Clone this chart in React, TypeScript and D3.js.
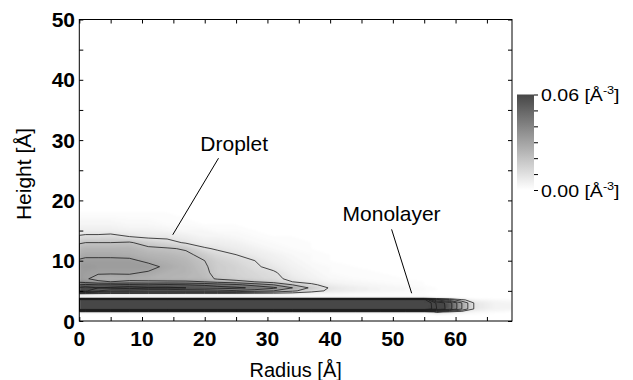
import { useRef, useEffect } from "react";
import * as d3 from "d3";

// grid of the density map
const radii = [0, 1, 3, 5, 8, 11, 14, 17, 20, 22, 25, 28, 31, 34, 37, 40, 44, 48, 52, 55, 57, 59, 61, 63, 66, 69];
const heights = [0, 1, 1.5, 2, 3, 3.5, 3.8, 4.5, 5, 5.5, 6, 6.5, 7, 8, 9, 10, 11, 12, 13, 14, 15, 16, 18, 20];

// density in 1e-3 Å^-3, one profile per radius (bottom -> top)
const density = [
  [0, 0, 3, 95, 95, 85, 1, 8, 65, 62, 50, 38, 33, 32, 33, 31, 27, 24, 19, 11, 6, 4, 1, 0],
  [0, 0, 3, 95, 95, 85, 1, 7, 62, 64, 52, 36, 31, 32, 34, 32, 28, 25, 20, 12, 6, 4, 1, 0],
  [0, 0, 3, 95, 95, 85, 1, 6, 50, 60, 50, 32, 27, 31, 33, 32, 28, 25, 20, 12, 6, 4, 1, 0],
  [0, 0, 3, 95, 95, 85, 1, 5, 45, 62, 50, 30, 26, 31, 33, 32, 28, 25, 20, 13, 6, 4, 1, 0],
  [0, 0, 3, 95, 95, 85, 1, 5, 45, 65, 52, 32, 27, 31, 33, 32, 27, 25, 21, 10, 5, 3, 1, 0],
  [0, 0, 3, 95, 95, 85, 1, 5, 42, 62, 50, 32, 26, 29, 33, 28, 25, 22, 16, 8, 5, 3, 1, 0],
  [0, 0, 3, 95, 95, 85, 1, 5, 42, 62, 52, 32, 25, 26, 28, 26, 24, 21, 13, 8, 4, 2, 1, 0],
  [0, 0, 3, 95, 95, 85, 1, 5, 40, 60, 50, 32, 24, 25, 25, 24, 22, 19, 9, 6, 3, 2, 0, 0],
  [0, 0, 3, 95, 95, 85, 1, 5, 40, 58, 48, 30, 23, 22, 21, 20, 17, 11, 6, 4, 3, 1, 0, 0],
  [0, 0, 3, 95, 95, 85, 1, 5, 40, 55, 45, 27, 19, 17, 17, 16, 13, 9, 6, 4, 2, 1, 0, 0],
  [0, 0, 3, 95, 95, 85, 1, 5, 38, 52, 42, 24, 16, 15, 15, 13, 10, 7, 5, 3, 2, 1, 0, 0],
  [0, 0, 3, 95, 95, 85, 1, 4, 35, 48, 36, 20, 14, 13, 11, 10, 7, 5, 3, 2, 1, 0, 0, 0],
  [0, 0, 3, 95, 95, 85, 1, 4, 30, 42, 30, 16, 12, 11, 8, 6, 5, 3, 2, 1, 0, 0, 0, 0],
  [0, 0, 3, 95, 95, 85, 1, 4, 22, 30, 20, 10, 8, 6, 5, 4, 3, 2, 1, 1, 0, 0, 0, 0],
  [0, 0, 3, 95, 95, 85, 1, 3, 14, 18, 12, 7, 5, 4, 3, 2, 2, 1, 1, 0, 0, 0, 0, 0],
  [0, 0, 3, 95, 95, 85, 1, 3, 8, 9, 6, 4, 3, 2, 2, 1, 1, 0, 0, 0, 0, 0, 0, 0],
  [0, 0, 3, 95, 95, 85, 1, 2, 6, 6, 4, 3, 2, 1, 1, 0, 0, 0, 0, 0, 0, 0, 0, 0],
  [0, 0, 3, 95, 95, 85, 1, 2, 4, 4, 3, 2, 1, 1, 0, 0, 0, 0, 0, 0, 0, 0, 0, 0],
  [0, 0, 3, 95, 95, 85, 1, 1, 3, 3, 2, 1, 1, 0, 0, 0, 0, 0, 0, 0, 0, 0, 0, 0],
  [0, 0, 3, 95, 95, 85, 1, 1, 2, 2, 1, 1, 0, 0, 0, 0, 0, 0, 0, 0, 0, 0, 0, 0],
  [0, 1, 12, 70, 68, 40, 1, 0, 1, 1, 0, 0, 0, 0, 0, 0, 0, 0, 0, 0, 0, 0, 0, 0],
  [0, 1, 8, 55, 55, 25, 1, 0, 0, 0, 0, 0, 0, 0, 0, 0, 0, 0, 0, 0, 0, 0, 0, 0],
  [0, 1, 5, 30, 30, 12, 0, 0, 0, 0, 0, 0, 0, 0, 0, 0, 0, 0, 0, 0, 0, 0, 0, 0],
  [0, 1, 3, 9, 9, 5, 0, 0, 0, 0, 0, 0, 0, 0, 0, 0, 0, 0, 0, 0, 0, 0, 0, 0],
  [0, 0, 2, 5, 5, 3, 0, 0, 0, 0, 0, 0, 0, 0, 0, 0, 0, 0, 0, 0, 0, 0, 0, 0],
  [0, 0, 1, 4, 4, 2, 0, 0, 0, 0, 0, 0, 0, 0, 0, 0, 0, 0, 0, 0, 0, 0, 0, 0],
];

const contourLevels = [0.01, 0.02, 0.03, 0.04, 0.05, 0.06, 0.07, 0.08];
const xTicks = [0, 5, 10, 15, 20, 25, 30, 35, 40, 45, 50, 55, 60, 65];
const xLabels = [0, 10, 20, 30, 40, 50, 60];
const yTicks = [0, 5, 10, 15, 20, 25, 30, 35, 40, 45, 50];
const yLabels = [0, 10, 20, 30, 40, 50];
const cbTicks = [0, 0.01, 0.02, 0.03, 0.04, 0.05, 0.06];
const cbLabels = [0, 0.06];

const annotations = [
  { label: "Droplet", at: [24.7, 28.2], from: [22.2, 27], to: [14.9, 14.3] },
  { label: "Monolayer", at: [49.8, 16.6], from: [49.8, 15.2], to: [53.0, 4.6] },
];

const FONT = "'Liberation Sans', Arial, sans-serif";

function DensityMap() {
  const ref = useRef<SVGSVGElement | null>(null);

  useEffect(() => {
    const svg = d3.select(ref.current!);
    svg.selectAll("*").remove();

    const left = 79.3, right = 512, top = 19.5, bottom = 321;
    const x = d3.scaleLinear().domain([0, 69]).range([left, right]);
    const y = d3.scaleLinear().domain([0, 50]).range([bottom, top]);
    const color = d3.scaleLinear<string>().domain([0, 0.06]).range(["#ffffff", "#474747"]).clamp(true);

    // grid -> flat values for d3.contours
    const nx = radii.length, ny = heights.length;
    const values: number[] = new Array(nx * ny);
    for (let j = 0; j < ny; j++)
      for (let i = 0; i < nx; i++) values[j * nx + i] = density[i][j] / 1000;

    const colToR = d3.scaleLinear().domain(radii.map((_, i) => i + 0.5)).range(radii).clamp(true);
    const rowToH = d3.scaleLinear().domain(heights.map((_, j) => j + 0.5)).range(heights).clamp(true);
    const proj = d3.geoTransform({
      point(px: number, py: number) {
        (this as any).stream.point(x(colToR(px)), y(rowToH(py)));
      },
    });
    const path = d3.geoPath(proj);
    const contours = d3.contours().size([nx, ny]);

    const defs = svg.append("defs");
    defs.append("clipPath").attr("id", "plot-clip")
      .append("rect").attr("x", left).attr("y", top).attr("width", right - left).attr("height", bottom - top);
    defs.append("filter").attr("id", "soft")
      .attr("x", "-5%").attr("y", "-5%").attr("width", "110%").attr("height", "110%")
      .append("feGaussianBlur").attr("stdDeviation", 0.8);

    const grad = defs.append("linearGradient").attr("id", "cb-grad")
      .attr("x1", 0).attr("y1", 1).attr("x2", 0).attr("y2", 0);
    d3.range(0, 1.0001, 0.1).forEach((t) => {
      grad.append("stop").attr("offset", t).attr("stop-color", color(t * 0.06));
    });

    const plot = svg.append("g").attr("clip-path", "url(#plot-clip)");

    // filled density
    const fillLevels = d3.range(1, 100).map((v) => v / 1000);
    plot.append("g").attr("filter", "url(#soft)")
      .selectAll("path")
      .data(contours.thresholds(fillLevels)(values))
      .join("path")
      .attr("d", (d: any) => path(d))
      .attr("fill", (d: any) => color(d.value))
      .attr("stroke", "none");

    // contour lines
    plot.append("g")
      .selectAll("path")
      .data(contours.thresholds(contourLevels)(values))
      .join("path")
      .attr("d", (d: any) => path(d))
      .attr("fill", "none")
      .attr("stroke", "#1c1c1c")
      .attr("stroke-width", 0.8);

    // frame + inward ticks
    svg.append("rect")
      .attr("x", left).attr("y", top).attr("width", right - left).attr("height", bottom - top)
      .attr("fill", "none").attr("stroke", "#000").attr("stroke-width", 1);

    const tickStyle = (g: any) => {
      g.select(".domain").remove();
      g.selectAll("line").attr("stroke", "#000");
    };
    svg.append("g").attr("transform", `translate(0,${bottom})`)
      .call(d3.axisBottom(x).tickValues(xTicks).tickSize(-4).tickFormat(() => "") as any).call(tickStyle);
    svg.append("g").attr("transform", `translate(0,${top})`)
      .call(d3.axisTop(x).tickValues(xTicks).tickSize(-4).tickFormat(() => "") as any).call(tickStyle);
    svg.append("g").attr("transform", `translate(${left},0)`)
      .call(d3.axisLeft(y).tickValues(yTicks).tickSize(-4).tickFormat(() => "") as any).call(tickStyle);
    svg.append("g").attr("transform", `translate(${right},0)`)
      .call(d3.axisRight(y).tickValues(yTicks).tickSize(-4).tickFormat(() => "") as any).call(tickStyle);

    // tick labels
    svg.append("g").selectAll("text").data(xLabels).join("text")
      .attr("x", (d) => x(d)).attr("y", 345.5)
      .attr("text-anchor", "middle")
      .attr("font-family", FONT).attr("font-size", 21).attr("font-weight", "bold")
      .text((d) => d);
    svg.append("g").selectAll("text").data(yLabels).join("text")
      .attr("x", 75).attr("y", (d) => y(d) + 7.5)
      .attr("text-anchor", "end")
      .attr("font-family", FONT).attr("font-size", 21).attr("font-weight", "bold")
      .text((d) => d);

    // axis titles
    svg.append("text")
      .attr("x", (left + right) / 2).attr("y", 377)
      .attr("text-anchor", "middle")
      .attr("font-family", FONT).attr("font-size", 20)
      .text("Radius [Å]");
    svg.append("text")
      .attr("transform", `translate(31,174) rotate(-90)`)
      .attr("text-anchor", "middle")
      .attr("font-family", FONT).attr("font-size", 21)
      .text("Height [Å]");

    // annotations
    const ann = svg.append("g");
    annotations.forEach((a) => {
      ann.append("line")
        .attr("x1", x(a.from[0])).attr("y1", y(a.from[1]))
        .attr("x2", x(a.to[0])).attr("y2", y(a.to[1]))
        .attr("stroke", "#000").attr("stroke-width", 1);
      ann.append("text")
        .attr("transform", `translate(${x(a.at[0])},${y(a.at[1])}) scale(1.05,1)`)
        .attr("text-anchor", "middle")
        .attr("font-family", FONT).attr("font-size", 20)
        .text(a.label);
    });

    // colorbar
    const cbX = 517, cbW = 17;
    const cb = d3.scaleLinear().domain([0, 0.06]).range([190, 94.5]);
    svg.append("rect")
      .attr("x", cbX).attr("y", cb(0.06)).attr("width", cbW).attr("height", cb(0) - cb(0.06))
      .attr("fill", "url(#cb-grad)");
    svg.append("g").attr("transform", `translate(${cbX + cbW},0)`)
      .call(d3.axisRight(cb).tickValues(cbTicks).tickSize(4).tickFormat(() => "") as any).call(tickStyle);

    const cbText = svg.append("g").selectAll("text").data(cbLabels).join("text")
      .attr("transform", (d) => `translate(541,${cb(d) + 6.5}) scale(1.15,1)`)
      .attr("font-family", FONT).attr("font-size", 17);
    cbText.append("tspan").text((d) => `${d.toFixed(2)} [Å`);
    cbText.append("tspan").attr("dy", -7).attr("font-size", 11).text("-3");
    cbText.append("tspan").attr("dy", 7).text("]");
  }, []);

  return (
    <svg
      ref={ref}
      width={633}
      height={380}
      style={{ position: "absolute", left: 0, top: 0, background: "#fff" }}
    ></svg>
  );
}

export default function App() {
  return <DensityMap />;
}
